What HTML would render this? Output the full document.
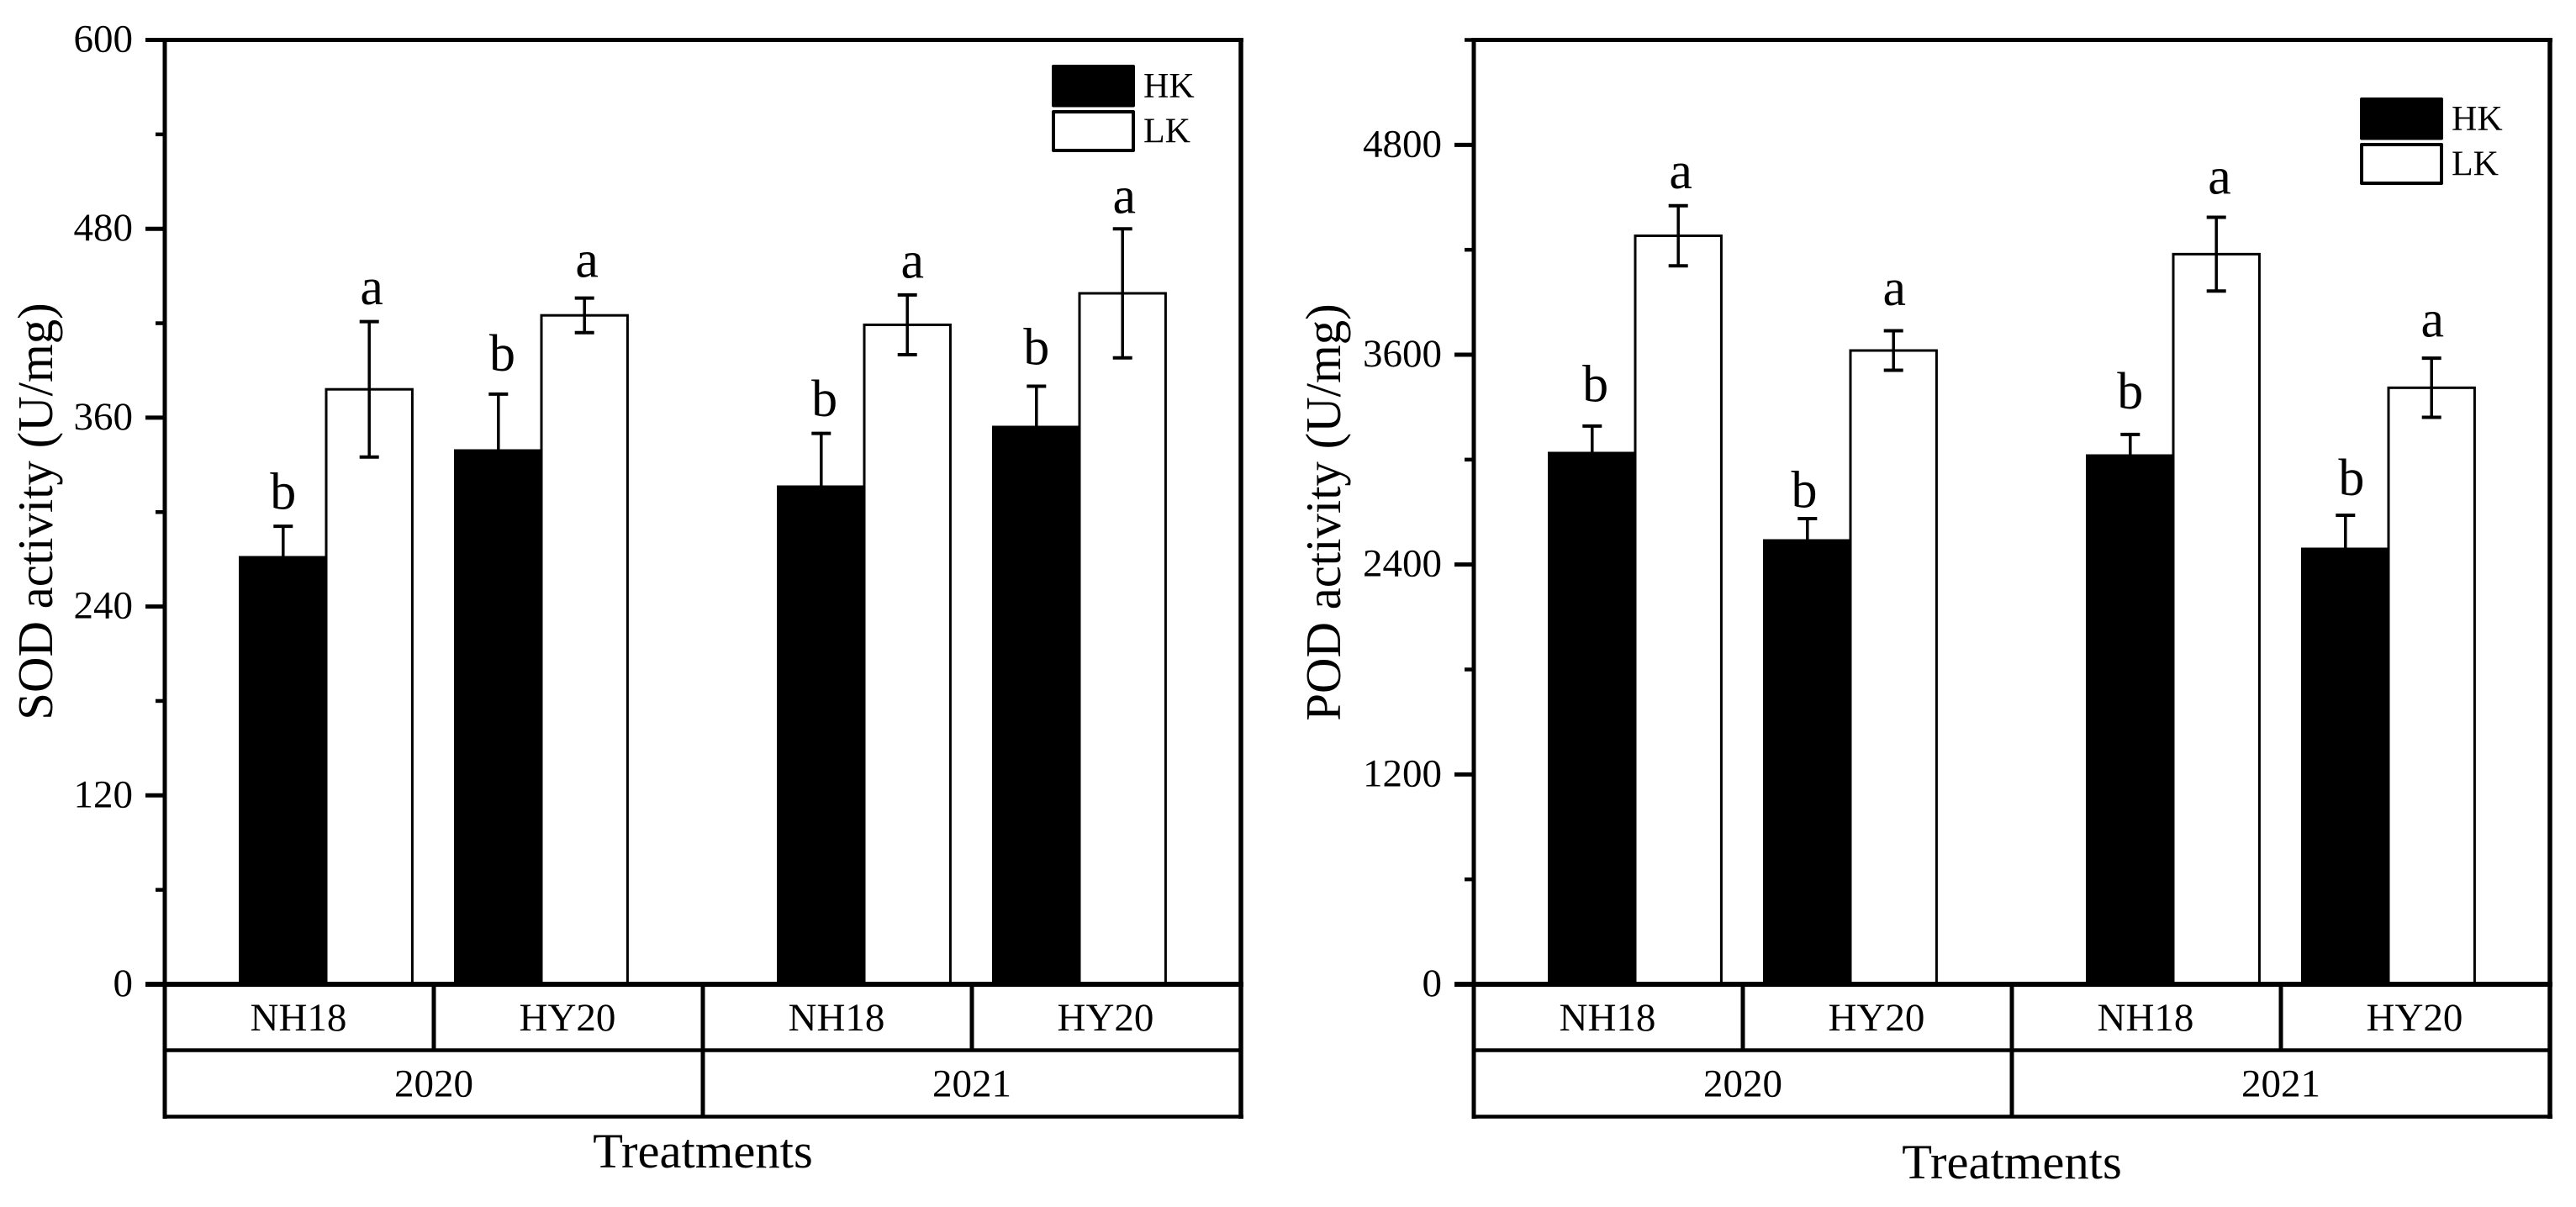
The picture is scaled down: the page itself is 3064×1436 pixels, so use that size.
<!DOCTYPE html>
<html lang="en">
<head>
<meta charset="utf-8">
<title>SOD and POD activity</title>
<style>
html,body{margin:0;padding:0;background:#fff;}
svg{display:block;}
text{font-family:"Liberation Serif","Times New Roman",serif;fill:#000;}
</style>
</head>
<body>
<svg id="figure" xmlns="http://www.w3.org/2000/svg" width="3064" height="1436" viewBox="0 0 3064 1436"></svg>
<script>
const treatments = ['NH18', 'HY20', 'NH18', 'HY20'];
const years = ['2020', '2021'];
const categoryPositions = [1.5, 3.5, 6.5, 8.5];
const seriesNames = ['HK', 'LK'];

const sodMajorTicks = [0, 120, 240, 360, 480, 600];
const sodMinorTicks = [60, 180, 300, 420, 540];
const sodHK = [272, 340, 317, 355];
const sodLK = [378, 425, 419, 439];
const sodHKErr = [19, 35, 33, 25];
const sodLKErr = [43, 11, 19, 41];
const sodHKLetters = ['b', 'b', 'b', 'b'];
const sodLKLetters = ['a', 'a', 'a', 'a'];
const sodHKLetterGap = [12, 16, 12, 15];
const sodLKLetterGap = [12, 14.5, 12, 11];
const sodHKLetterShift = [0, 0.037, 0.03, 0];
const sodLKLetterShift = [0.023, 0.023, 0.047, 0.016];

const podMajorTicks = [0, 1200, 2400, 3600, 4800];
const podMinorTicks = [600, 1800, 3000, 4200, 5400];
const podHK = [3046, 2546, 3031, 2498];
const podLK = [4280, 3624, 4175, 3411];
const podHKErr = [146, 117, 113, 184];
const podLKErr = [172, 113, 211, 169];
const podHKLetters = ['b', 'b', 'b', 'b'];
const podLKLetters = ['a', 'a', 'a', 'a'];
const podHKLetterGap = [152, 75, 157, 125];
const podLKLetterGap = [109, 157, 144, 133];
const podHKLetterShift = [0.03, -0.03, 0, 0.055];
const podLKLetterShift = [0.023, 0.008, 0.03, 0.008];

const NS = 'http://www.w3.org/2000/svg';
const svgRoot = document.getElementById('figure');

function mk(parent, tag, attrs, txt) {
  const el = document.createElementNS(NS, tag);
  for (const k in attrs) el.setAttribute(k, attrs[k]);
  if (txt !== undefined) el.textContent = txt;
  parent.appendChild(el);
  return el;
}
function line(parent, x1, y1, x2, y2, w) {
  return mk(parent, 'line', {x1: x1, y1: y1, x2: x2, y2: y2, stroke: '#000', 'stroke-width': w});
}

function drawPanel(cfg) {
  const panel = mk(svgRoot, 'g', {});
  
  

  const left = cfg.left, right = cfg.left + 1280;
  const top = 47.5, zero = 1171;
  const xs = function (u) { return left + u * 128; };
  const ys = function (v) { return zero - (v / cfg.max) * (zero - top); };
  const barUnits = 0.8;

  // bars
  const bars = mk(panel, 'g', {});
  
  
  categoryPositions.forEach(function (pos, i) {
    const hkTop = ys(cfg.hk[i]);
    const hkBar = mk(bars, 'rect', {
      x: xs(pos - barUnits) - 1.5, y: hkTop,
      width: xs(pos) - xs(pos - barUnits) + 1.5, height: zero - hkTop,
      fill: '#000', 'shape-rendering': 'crispEdges'
    });
    
    

    const lkTop = ys(cfg.lk[i]);
    const lkBar = mk(bars, 'rect', {
      x: xs(pos), y: lkTop,
      width: xs(pos + barUnits) - xs(pos), height: zero - lkTop,
      fill: '#fff', stroke: '#000', 'stroke-width': 3
    });
    
    
  });

  // error bars and significance letters
  categoryPositions.forEach(function (pos, i) {
    [
      {u: pos - barUnits / 2, v: cfg.hk[i], e: cfg.hkErr[i], letter: cfg.hkLetters[i], gap: cfg.hkGap[i], shift: cfg.hkShift[i]},
      {u: pos + barUnits / 2, v: cfg.lk[i], e: cfg.lkErr[i], letter: cfg.lkLetters[i], gap: cfg.lkGap[i], shift: cfg.lkShift[i]}
    ].forEach(function (s) {
      const err = mk(panel, 'g', {});
      
      
      const cx = xs(s.u);
      line(err, cx, ys(s.v + s.e), cx, ys(s.v - s.e), 3.5);
      line(err, cx - 11.5, ys(s.v + s.e), cx + 11.5, ys(s.v + s.e), 4);
      line(err, cx - 11.5, ys(s.v - s.e), cx + 11.5, ys(s.v - s.e), 4);

      const lab = mk(panel, 'text', {
        x: xs(s.u + s.shift), y: ys(s.v + s.e + s.gap) + 2,
        'text-anchor': 'middle', 'font-size': 62
      }, s.letter);
      
      
    });
  });

  // y ticks
  cfg.major.forEach(function (t) {
    const tick = line(panel, left - 23, ys(t), left, ys(t), t === 0 ? 6 : 5);
    
    
    const lab = mk(panel, 'text', {
      x: left - 38, y: ys(t) + 14, 'text-anchor': 'end', 'font-size': 47
    }, String(t));
    
    
  });
  cfg.minor.forEach(function (t) {
    const tick = line(panel, left - 11, ys(t), left, ys(t), 4.5);
    
    
  });

  // frame
  const frameBottom = 1328.5, rowLine = 1249.5;
  const topLine = line(panel, left - 2.5, top, right + 3, top, 5);
  
  
  const leftLine = line(panel, left, top - 2.5, left, frameBottom + 2.5, 5);
  
  
  const rightLine = line(panel, right, top - 2.5, right, frameBottom + 2.5, 5.5);
  
  
  const zeroLine = line(panel, left, zero, right + 3, zero, 6);
  
  
  const rowSep = line(panel, left, rowLine, right, rowLine, 4.5);
  
  
  const bottomLine = line(panel, left - 2.5, frameBottom, right + 3, frameBottom, 4.5);
  
  

  // category table
  treatments.forEach(function (name, i) {
    if (i > 0) {
      const div = line(panel, left + 320 * i, zero, left + 320 * i, rowLine, 5);
      
      
    }
    const lab = mk(panel, 'text', {
      x: left + 320 * i + 160 - 1, y: 1226, 'text-anchor': 'middle', 'font-size': 47
    }, name);
    
    
  });
  years.forEach(function (name, i) {
    if (i > 0) {
      const div = line(panel, left + 640 * i, rowLine, left + 640 * i, frameBottom, 5);
      
      
    }
    const lab = mk(panel, 'text', {
      x: left + 640 * i + 320, y: 1304.5, 'text-anchor': 'middle', 'font-size': 47
    }, name);
    
    
  });

  // titles
  const xTitle = mk(panel, 'text', {
    x: left + 640, y: cfg.xTitleY, 'text-anchor': 'middle', 'font-size': 58.6
  }, 'Treatments');
  
  

  const yTitle = mk(panel, 'text', {
    transform: 'translate(' + cfg.yTitleX + ',' + cfg.yTitleCy + ') rotate(-90)',
    'text-anchor': 'middle', 'font-size': 58.8
  }, cfg.yTitle);
  
  

  // legend
  const legend = mk(panel, 'g', {});
  
  
  const hkSwatch = mk(legend, 'rect', {
    x: cfg.legendX, y: cfg.legendY, width: 99, height: 50.5, rx: 2, fill: '#000'
  });
  
  
  const lkSwatch = mk(legend, 'rect', {
    x: cfg.legendX + 2, y: cfg.legendY + 56, width: 95, height: 46, fill: '#fff',
    stroke: '#000', 'stroke-width': 4, 'stroke-linejoin': 'round'
  });
  
  
  const hkText = mk(legend, 'text', {
    x: cfg.legendX + 109, y: cfg.legendY + 39, 'font-size': 42
  }, seriesNames[0]);
  
  
  const lkText = mk(legend, 'text', {
    x: cfg.legendX + 109, y: cfg.legendY + 92.5, 'font-size': 42
  }, seriesNames[1]);
  
  
}

drawPanel({
  name: 'sod-activity-chart', left: 196, max: 600,
  hk: sodHK, lk: sodLK, hkErr: sodHKErr, lkErr: sodLKErr,
  hkLetters: sodHKLetters, lkLetters: sodLKLetters,
  hkGap: sodHKLetterGap, lkGap: sodLKLetterGap,
  hkShift: sodHKLetterShift, lkShift: sodLKLetterShift,
  major: sodMajorTicks, minor: sodMinorTicks,
  yTitle: 'SOD activity (U/mg)', yTitleX: 62, yTitleCy: 608.5, xTitleY: 1389,
  legendX: 1251, legendY: 77
});
drawPanel({
  name: 'pod-activity-chart', left: 1753, max: 5400,
  hk: podHK, lk: podLK, hkErr: podHKErr, lkErr: podLKErr,
  hkLetters: podHKLetters, lkLetters: podLKLetters,
  hkGap: podHKLetterGap, lkGap: podLKLetterGap,
  hkShift: podHKLetterShift, lkShift: podLKLetterShift,
  major: podMajorTicks, minor: podMinorTicks,
  yTitle: 'POD activity (U/mg)', yTitleX: 1594, yTitleCy: 609.5, xTitleY: 1402,
  legendX: 2807, legendY: 116
});
</script>
</body>
</html>
